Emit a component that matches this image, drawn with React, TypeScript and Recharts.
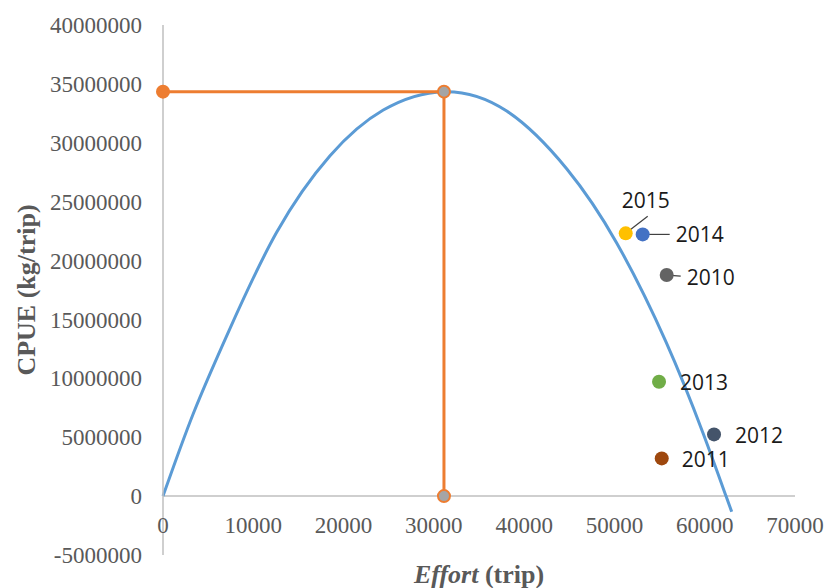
import { ComposedChart, XAxis, YAxis, Line, Scatter, ReferenceLine, Label } from 'recharts';

// fitted surplus production curve
const curveEffort = [
  0, 3360, 7340, 12590, 18500, 24400, 31120, 38070, 44710, 50250, 55710, 59840, 62360, 62990,
];
const curveCpue = [
  0, 7020000, 14100000, 22400000, 28900000, 32780000, 34340000, 32700000, 27800000, 21500000,
  13100000, 5300000, 0, -1330000,
];

// MSY / E-msy guide
const msyEffort = 31120;
const msyCpue = 34340000;

// observed years
const years = ['2010', '2011', '2012', '2013', '2014', '2015'];
const yearEffort = [55790, 55240, 61030, 54940, 53130, 51250];
const yearCpue = [18770000, 3200000, 5240000, 9710000, 22220000, 22310000];

const xTicks = [0, 10000, 20000, 30000, 40000, 50000, 60000, 70000];
const yTicks = [
  -5000000, 0, 5000000, 10000000, 15000000, 20000000, 25000000, 30000000, 35000000, 40000000,
];

const yearColors: Record<string, string> = {
  '2010': '#636363',
  '2011': '#9E480E',
  '2012': '#44546A',
  '2013': '#70AD47',
  '2014': '#4472C4',
  '2015': '#FFC000',
};

// label placement in px relative to the dot (leader = end of the thin connector)
const labelPlacement: Record<string, { dx: number; dy: number; leader?: [number, number] }> = {
  '2010': { dx: 20, dy: 2, leader: [14, 1] },
  '2011': { dx: 20, dy: 1 },
  '2012': { dx: 21, dy: 1 },
  '2013': { dx: 21, dy: 0 },
  '2014': { dx: 33, dy: 0, leader: [27, 0] },
  '2015': { dx: -4, dy: -33, leader: [22, -17] },
};

const curveData = curveEffort.map((x, i) => ({ x, y: curveCpue[i] }));
const msyData = [
  { x: 0, y: msyCpue },
  { x: msyEffort, y: msyCpue },
  { x: msyEffort, y: 0 },
];
const yearData = years.map((year, i) => ({ year, x: yearEffort[i], y: yearCpue[i] }));

const AXIS_GREY = '#BFBFBF';
const TEXT_GREY = '#595959';
const SERIF = '"Liberation Serif", "Times New Roman", serif';

const XTick = (props: any) => {
  const { x, y, payload } = props;
  return (
    <text
      x={x}
      y={y - 30}
      textAnchor="middle"
      dominantBaseline="central"
      fill={TEXT_GREY}
      fontSize={23}
      fontFamily={SERIF}
    >
      {payload.value}
    </text>
  );
};

const YearDot = (props: any) => {
  const { cx, cy, payload } = props;
  const place = labelPlacement[payload.year];
  return (
    <g>
      {place.leader && (
        <line
          x1={cx}
          y1={cy}
          x2={cx + place.leader[0]}
          y2={cy + place.leader[1]}
          stroke="#404040"
          strokeWidth={1.2}
        />
      )}
      <circle cx={cx} cy={cy} r={7} fill={yearColors[payload.year]} />
      <text
        x={cx + place.dx}
        y={cy + place.dy}
        dominantBaseline="central"
        fill="#1A1A1A"
        fontSize={21}
        fontFamily='"Open Sans", sans-serif'
      >
        {payload.year}
      </text>
    </g>
  );
};

export default function App() {
  return (
    <div style={{ position: 'absolute', left: 0, top: 0, background: '#fff' }}>
      <ComposedChart width={826} height={588} margin={{ top: 25, right: 31, bottom: 2, left: 13 }}>
        <XAxis
          type="number"
          dataKey="x"
          domain={[0, 70000]}
          ticks={xTicks}
          height={31}
          axisLine={false}
          tickLine={false}
          tickSize={0}
          tickMargin={0}
          tick={<XTick />}
        >
          <Label
            content={(p: any) => {
              const vb = p.viewBox;
              return (
                <text
                  x={vb.x + vb.width / 2}
                  y={vb.y + 28}
                  textAnchor="middle"
                  fill={TEXT_GREY}
                  fontSize={26}
                  fontWeight="bold"
                  fontFamily={SERIF}
                >
                  <tspan fontStyle="italic">Effort</tspan>
                  <tspan> (trip)</tspan>
                </text>
              );
            }}
          />
        </XAxis>
        <YAxis
          type="number"
          dataKey="y"
          domain={[-5000000, 40000000]}
          ticks={yTicks}
          width={150}
          axisLine={{ stroke: AXIS_GREY, strokeWidth: 1.5 }}
          tickLine={false}
          tickSize={6}
          tickMargin={15}
          tick={{ fill: TEXT_GREY, fontSize: 23, fontFamily: SERIF }}
        >
          <Label
            content={(p: any) => {
              const vb = p.viewBox;
              const cx = vb.x + 13;
              const cy = vb.y + vb.height / 2;
              return (
                <text
                  x={cx}
                  y={cy}
                  transform={`rotate(-90 ${cx} ${cy})`}
                  textAnchor="middle"
                  dominantBaseline="central"
                  fill={TEXT_GREY}
                  fontSize={26}
                  fontWeight="bold"
                  fontFamily={SERIF}
                >
                  CPUE (kg/trip)
                </text>
              );
            }}
          />
        </YAxis>
        <ReferenceLine y={0} stroke={AXIS_GREY} strokeWidth={1.5} />
        <Line
          data={curveData}
          dataKey="y"
          type="natural"
          stroke="#5B9BD5"
          strokeWidth={3}
          dot={false}
          activeDot={false}
          isAnimationActive={false}
        />
        <Line
          data={msyData}
          dataKey="y"
          type="linear"
          stroke="#ED7D31"
          strokeWidth={3}
          activeDot={false}
          isAnimationActive={false}
          dot={(p: any) => (
            <circle
              key={`msy-${p.index}`}
              cx={p.cx}
              cy={p.cy}
              r={6}
              fill={p.index === 0 ? '#ED7D31' : '#A5A5A5'}
              stroke="#ED7D31"
              strokeWidth={2}
            />
          )}
        />
        <Scatter data={yearData} shape={<YearDot />} isAnimationActive={false} />
      </ComposedChart>
    </div>
  );
}
